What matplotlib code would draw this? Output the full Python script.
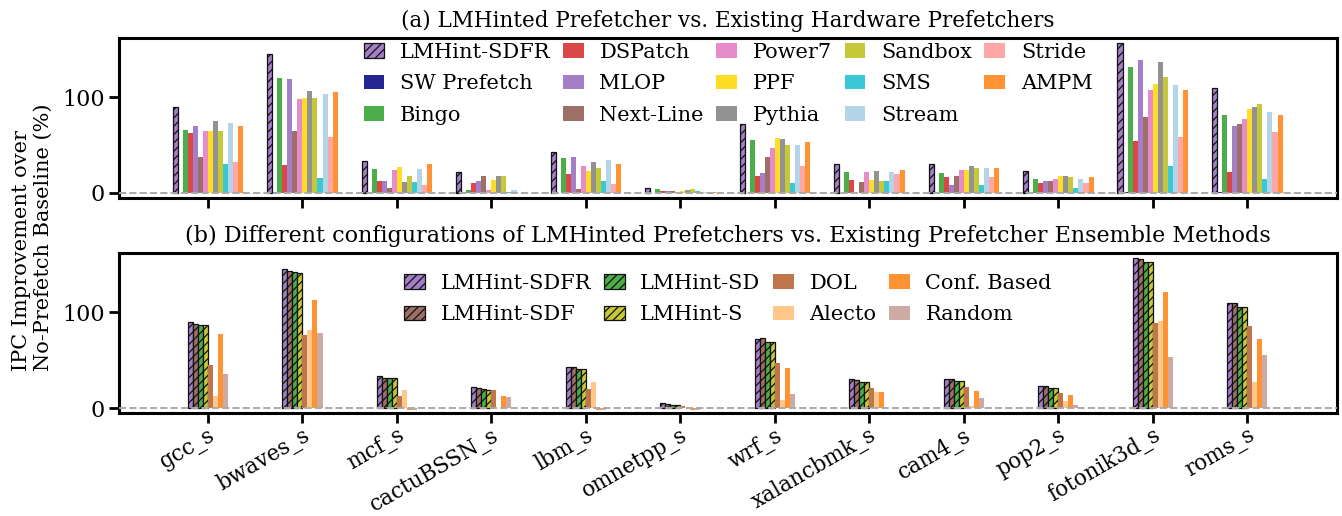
import matplotlib
matplotlib.use("Agg")
import matplotlib.pyplot as plt
import numpy as np

# ---------------------------------------------------------------- data
benchmarks = ["gcc_s", "bwaves_s", "mcf_s", "cactuBSSN_s", "lbm_s", "omnetpp_s",
              "wrf_s", "xalancbmk_s", "cam4_s", "pop2_s", "fotonik3d_s", "roms_s"]

# (a) IPC improvement (%) of each hardware prefetcher
lmhint_sdfr = [90, 145, 33, 22, 43, 5, 72, 30, 30, 23, 156, 109]
sw_prefetch = [0.5, 1, 0.5, 0.5, 0.5, 0.3, 0.5, 0.5, 0.5, 0.5, 1.5, 1]
bingo = [66, 120, 25, 3, 36, 4, 55, 22, 21, 15, 131, 81]
dspatch = [63, 29, 13, 10, 20, 2, 18, 14, 17, 10, 54, 22]
mlop = [70, 119, 13, 13, 38, 2, 21, 0.5, 8, 12, 139, 70]
next_line = [37, 65, 5, 18, 4, 2, 37, 11, 18, 12, 79, 72]
power7 = [65, 98, 24, 3, 28, 0.5, 47, 22, 24, 15, 107, 77]
ppf = [65, 99, 27, 14, 23, 2, 57, 14, 24, 18, 114, 88]
pythia = [75, 106, 11, 18, 32, 3, 56, 23, 28, 18, 136, 90]
sandbox = [65, 99, 18, 18, 26, 4, 50, 13, 26, 17, 121, 93]
sms = [30, 16, 11, 1, 13, 2, 10, 12, 8, 5, 28, 15]
stream = [73, 103, 25, 3, 34, 1, 50, 22, 26, 15, 112, 84]
stride = [32, 58, 8, 0.5, 9, -0.5, 28, 20, 17, 10, 58, 64]
ampm = [70, 105, 30, 0.5, 30, 1, 53, 24, 26, 17, 107, 81]

# (b) IPC improvement (%) of LMHint configurations and ensemble methods
lmhint_sdf = [87.5, 142.5, 31, 21, 42.5, 4, 72.5, 29.5, 30.5, 23, 155.5, 109]
lmhint_sd = [86.5, 141.5, 31.5, 20, 41, 3, 68.5, 27.5, 28.5, 21, 152, 105]
lmhint_s = [86.5, 140.5, 31, 19, 41, 3, 68.5, 27.5, 28.5, 21, 152, 105]
dol = [45, 76, 13, 19, 20, 2, 47, 21, 22, 16, 88.5, 85.5]
alecto = [12, 81, 19, 0, 27, 0, 8.5, 17, 2.5, 7.5, 90.5, 27.5]
conf_based = [77, 112.5, -2, 12.5, -2.5, -2, 42, 17, 18, 14, 121, 72]
random_sel = [35, 78, -2, 11.5, -2.5, -2, 15, 0, 10.5, 3.5, 53, 55]

hw_series = [
    ("LMHint-SDFR", lmhint_sdfr), ("SW Prefetch", sw_prefetch), ("Bingo", bingo),
    ("DSPatch", dspatch), ("MLOP", mlop), ("Next-Line", next_line),
    ("Power7", power7), ("PPF", ppf), ("Pythia", pythia), ("Sandbox", sandbox),
    ("SMS", sms), ("Stream", stream), ("Stride", stride), ("AMPM", ampm),
]
ens_series = [
    ("LMHint-SDFR", lmhint_sdfr), ("LMHint-SDF", lmhint_sdf),
    ("LMHint-SD", lmhint_sd), ("LMHint-S", lmhint_s), ("DOL", dol),
    ("Alecto", alecto), ("Conf. Based", conf_based), ("Random", random_sel),
]

# ---------------------------------------------------------------- style
colors = {
    "LMHint-SDFR": "#a47ec7", "SW Prefetch": "#262693", "Bingo": "#4bae4b",
    "DSPatch": "#db4748", "MLOP": "#a47ec7", "Next-Line": "#9d6f66",
    "Power7": "#e78bcb", "PPF": "#ffdd26", "Pythia": "#929292",
    "Sandbox": "#c6c739", "SMS": "#3ac8d6", "Stream": "#b4d4e8",
    "Stride": "#ffa7a6", "AMPM": "#ff9232",
    "LMHint-SDF": "#9d6f66", "LMHint-SD": "#4bae4b", "LMHint-S": "#c6c739",
    "DOL": "#c0764c", "Alecto": "#ffc88a", "Conf. Based": "#ff9232",
    "Random": "#cdaba4",
}
hatched = {"LMHint-SDFR", "LMHint-SDF", "LMHint-SD", "LMHint-S"}

plt.rcParams["font.family"] = "DejaVu Serif"
plt.rcParams["hatch.linewidth"] = 0.9
FS = 15
TICK_FS = 16

fig = plt.figure(figsize=(13.42, 5.16), dpi=100)
ax1 = fig.add_axes([0.0887, 0.6163, 0.9076, 0.3101])
ax2 = fig.add_axes([0.0887, 0.1996, 0.9076, 0.3101])

x = np.arange(len(benchmarks))
w = 0.8 / 15


def draw_group(ax, series):
    n = len(series)
    for i, (name, vals) in enumerate(series):
        off = (i - (n - 1) / 2) * w
        if name in hatched:
            ax.bar(x + off, vals, w, color=colors[name], hatch="////",
                   edgecolor="#111111", linewidth=0.9, label=name, zorder=2)
        else:
            ax.bar(x + off, vals, w, color=colors[name], edgecolor="none",
                   label=name, zorder=2)
    ax.axhline(0, color="#aaaaaa", ls="--", lw=1.4, zorder=3)
    ax.set_xlim(-0.94, 11.95)
    ax.set_ylim(-5.2, 161.5)
    ax.set_yticks([0, 100])
    ax.set_xticks(x)
    ax.tick_params(axis="both", direction="out", length=7, width=2,
                   labelsize=TICK_FS, color="black")
    for sp in ax.spines.values():
        sp.set_linewidth(2.2)
        sp.set_color("black")


draw_group(ax1, hw_series)
draw_group(ax2, ens_series)

ax1.set_xticklabels([])
ax2.set_xticklabels(benchmarks, rotation=30, ha="right",
                    rotation_mode="anchor", fontsize=15.5)
ax2.tick_params(axis="x", pad=1)

ax1.set_title("(a) LMHinted Prefetcher vs. Existing Hardware Prefetchers",
              fontsize=15.5, pad=8)
ax2.set_title("(b) Different configurations of LMHinted Prefetchers vs. "
              "Existing Prefetcher Ensemble Methods", fontsize=16, pad=8)

legend_kw = dict(loc="upper center", frameon=False, fontsize=FS,
                 handlelength=1.0, handleheight=0.7, handletextpad=0.75,
                 columnspacing=0.6, labelspacing=0.6, borderpad=0,
                 borderaxespad=0)
ax1.legend(ncol=5, bbox_to_anchor=(0.5, 0.97), **legend_kw)
ax2.legend(ncol=4, bbox_to_anchor=(0.5, 0.87), **legend_kw)

fig.text(0.024, 0.541, "IPC Improvement over\nNo-Prefetch Baseline (%)",
         rotation=90, ha="center", va="center", multialignment="left",
         fontsize=FS)

fig.savefig("out.png", dpi=100)
